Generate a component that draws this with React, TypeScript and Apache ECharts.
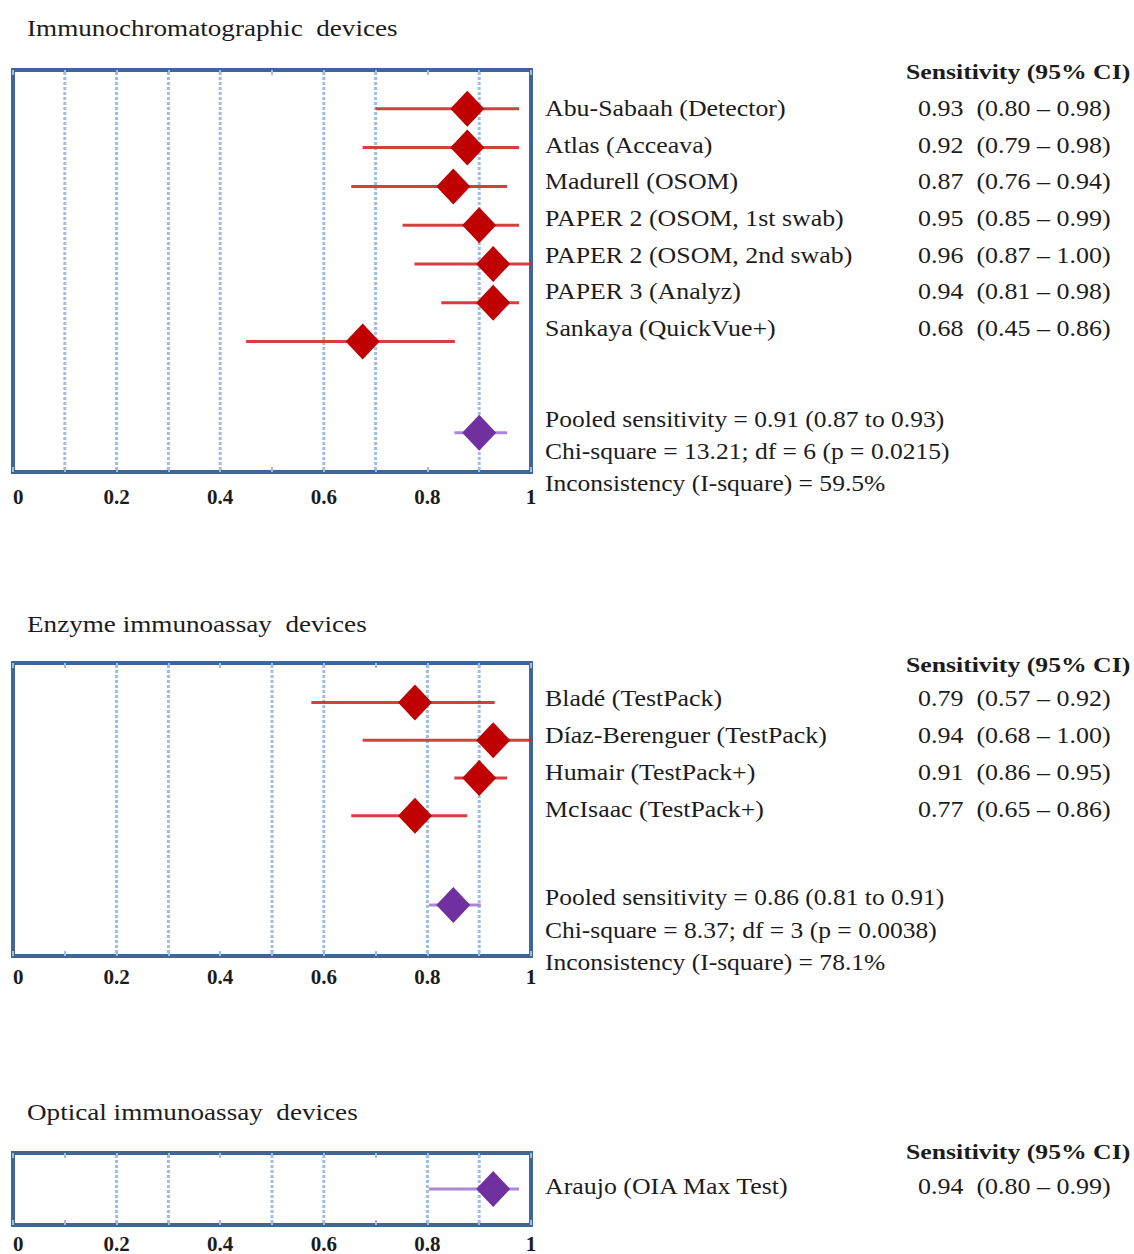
import React, { useEffect, useRef } from "react";
import * as echarts from "echarts";

const W = 1134;
const H = 1254;

// ---------- Data ----------
const tickLabels = ["0", "0.2", "0.4", "0.6", "0.8", "1"];

// Panel 1: Immunochromatographic devices
const icTitle = "Immunochromatographic  devices";
const icStudies = [
  "Abu-Sabaah (Detector)",
  "Atlas (Acceava)",
  "Madurell (OSOM)",
  "PAPER 2 (OSOM, 1st swab)",
  "PAPER 2 (OSOM, 2nd swab)",
  "PAPER 3 (Analyz)",
  "Sankaya (QuickVue+)",
];
const icSens = [0.93, 0.92, 0.87, 0.95, 0.96, 0.94, 0.68];
const icLow = [0.8, 0.79, 0.76, 0.85, 0.87, 0.81, 0.45];
const icHigh = [0.98, 0.98, 0.94, 0.99, 1.0, 0.98, 0.86];
// positions of the marks as drawn in the figure
const icPlotEst = [0.877, 0.877, 0.85, 0.9, 0.927, 0.927, 0.675];
const icPlotLow = [0.7, 0.675, 0.653, 0.752, 0.775, 0.827, 0.45];
const icPlotHigh = [0.977, 0.977, 0.954, 0.977, 1.0, 0.977, 0.853];
const icPooledPlot = [0.9, 0.852, 0.954]; // est, low, high
const icPooled = [0.91, 0.87, 0.93];
const icChi = [13.21, 6, 0.0215]; // chi-square, df, p
const icI2 = 59.5;
const icGridLines = [0.1, 0.2, 0.3, 0.4, 0.6, 0.7, 0.9];

// Panel 2: Enzyme immunoassay devices
const eiaTitle = "Enzyme immunoassay  devices";
const eiaStudies = [
  "Bladé (TestPack)",
  "Díaz-Berenguer (TestPack)",
  "Humair (TestPack+)",
  "McIsaac (TestPack+)",
];
const eiaSens = [0.79, 0.94, 0.91, 0.77];
const eiaLow = [0.57, 0.68, 0.86, 0.65];
const eiaHigh = [0.92, 1.0, 0.95, 0.86];
const eiaPlotEst = [0.776, 0.927, 0.9, 0.776];
const eiaPlotLow = [0.576, 0.675, 0.852, 0.653];
const eiaPlotHigh = [0.93, 1.0, 0.954, 0.877];
const eiaPooledPlot = [0.85, 0.803, 0.903];
const eiaPooled = [0.86, 0.81, 0.91];
const eiaChi = [8.37, 3, 0.0038];
const eiaI2 = 78.1;
const eiaGridLines = [0.2, 0.3, 0.5, 0.6, 0.8, 0.9];

// Panel 3: Optical immunoassay devices
const oiaTitle = "Optical immunoassay  devices";
const oiaStudies = ["Araujo (OIA Max Test)"];
const oiaSens = [0.94];
const oiaLow = [0.8];
const oiaHigh = [0.99];
const oiaPlotEst = [0.927];
const oiaPlotLow = [0.803];
const oiaPlotHigh = [0.977];
const oiaGridLines = [0.2, 0.3, 0.5, 0.6, 0.8, 0.9];

// ---------- Styles ----------
const FONT = '"Liberation Serif", "Times New Roman", serif';
const TEXT_COLOR = "#1c1c1c";
const FRAME = "#3f6696";
const GRIDC = "#9fbde3";
const RED = "#c00000";
const RED_LINE = "#d12a2a";
const PURPLE = "#7030a0";
const PURPLE_LINE = "#a27ad0";

type Panel = {
  title: string;
  titleY: number;
  top: number;
  height: number;
  yMin: number;
  yMax: number;
  labelMargin: number;
  studies: string[];
  sens: number[];
  low: number[];
  high: number[];
  est: number[];
  pLow: number[];
  pHigh: number[];
  studyPurple: boolean;
  pooledPlot: number[] | null;
  pooledRow: number;
  stats: string[];
  gridLines: number[];
  headerY: number;
  rowY0: number;
  rowStep: number;
  statY0: number;
  statStep: number;
};

const f2 = (v: number) => v.toFixed(2);

const panels: Panel[] = [
  {
    title: icTitle,
    titleY: 28,
    top: 70,
    height: 402,
    yMin: -1,
    yMax: 9.36,
    labelMargin: 14,
    studies: icStudies,
    sens: icSens,
    low: icLow,
    high: icHigh,
    est: icPlotEst,
    pLow: icPlotLow,
    pHigh: icPlotHigh,
    studyPurple: false,
    pooledPlot: icPooledPlot,
    pooledRow: 8.35,
    stats: [
      `Pooled sensitivity = ${f2(icPooled[0])} (${f2(icPooled[1])} to ${f2(icPooled[2])})`,
      `Chi-square = ${icChi[0].toFixed(2)}; df = ${icChi[1]} (p = ${icChi[2].toFixed(4)})`,
      `Inconsistency (I-square) = ${icI2.toFixed(1)}%`,
    ],
    gridLines: icGridLines,
    headerY: 72,
    rowY0: 108,
    rowStep: 36.67,
    statY0: 419,
    statStep: 32,
  },
  {
    title: eiaTitle,
    titleY: 624,
    top: 663,
    height: 293,
    yMin: -1.05,
    yMax: 6.72,
    labelMargin: 10,
    studies: eiaStudies,
    sens: eiaSens,
    low: eiaLow,
    high: eiaHigh,
    est: eiaPlotEst,
    pLow: eiaPlotLow,
    pHigh: eiaPlotHigh,
    studyPurple: false,
    pooledPlot: eiaPooledPlot,
    pooledRow: 5.37,
    stats: [
      `Pooled sensitivity = ${f2(eiaPooled[0])} (${f2(eiaPooled[1])} to ${f2(eiaPooled[2])})`,
      `Chi-square = ${eiaChi[0].toFixed(2)}; df = ${eiaChi[1]} (p = ${eiaChi[2].toFixed(4)})`,
      `Inconsistency (I-square) = ${eiaI2.toFixed(1)}%`,
    ],
    gridLines: eiaGridLines,
    headerY: 665,
    rowY0: 698,
    rowStep: 37,
    statY0: 897,
    statStep: 32.5,
  },
  {
    title: oiaTitle,
    titleY: 1112,
    top: 1153,
    height: 75,
    yMin: -1,
    yMax: 1,
    labelMargin: 8,
    studies: oiaStudies,
    sens: oiaSens,
    low: oiaLow,
    high: oiaHigh,
    est: oiaPlotEst,
    pLow: oiaPlotLow,
    pHigh: oiaPlotHigh,
    studyPurple: true,
    pooledPlot: null,
    pooledRow: 0,
    stats: [],
    gridLines: oiaGridLines,
    headerY: 1152,
    rowY0: 1186,
    rowStep: 37,
    statY0: 0,
    statStep: 0,
  },
];

const GRID_LEFT = 13;
const GRID_WIDTH = 518;

function txt(text: string, x: number, y: number, size: number, weight: string, sx: number) {
  return {
    type: "text",
    x,
    y,
    scaleX: sx,
    silent: true,
    style: {
      text,
      fill: TEXT_COLOR,
      font: `${weight} ${size}px ${FONT}`,
      textAlign: "left",
      textVerticalAlign: "middle",
      verticalAlign: "middle",
    },
  };
}

function buildOption() {
  const grid: any[] = [];
  const xAxis: any[] = [];
  const yAxis: any[] = [];
  const series: any[] = [];
  const graphic: any[] = [];

  panels.forEach((p, i) => {
    grid.push({
      left: GRID_LEFT,
      top: p.top,
      width: GRID_WIDTH,
      height: p.height,
      show: true,
      borderColor: FRAME,
      borderWidth: 4,
      backgroundColor: "#fff",
      containLabel: false,
    });
    const tickStyle = { show: true, inside: true, length: 5, lineStyle: { color: GRIDC, width: 2 } };
    xAxis.push({
      gridIndex: i,
      type: "value",
      min: 0,
      max: 1,
      interval: 0.1,
      position: "bottom",
      axisLine: { show: false, onZero: false },
      axisTick: tickStyle,
      splitLine: { show: false },
      axisLabel: {
        margin: p.labelMargin,
        color: TEXT_COLOR,
        fontFamily: FONT,
        fontWeight: "bold",
        fontSize: 21,
        alignMinLabel: "left",
        alignMaxLabel: "center",
        formatter: (v: number) => {
          const k = Math.round(v * 10);
          return k % 2 === 0 ? tickLabels[k / 2] : "";
        },
      },
    });
    xAxis.push({
      gridIndex: i,
      type: "value",
      min: 0,
      max: 1,
      interval: 0.1,
      position: "top",
      axisLine: { show: false, onZero: false },
      axisTick: tickStyle,
      splitLine: { show: false },
      axisLabel: { show: false },
    });
    yAxis.push({
      gridIndex: i,
      type: "value",
      inverse: true,
      min: p.yMin,
      max: p.yMax,
      show: false,
      axisLine: { onZero: false },
      splitLine: { show: false },
    });
    const xi = i * 2;

    // dotted gridlines
    series.push({
      type: "custom",
      xAxisIndex: xi,
      yAxisIndex: i,
      z: 1,
      silent: true,
      encode: { x: 0 },
      data: p.gridLines.map((v) => [v]),
      renderItem: (params: any, api: any) => {
        const cs = params.coordSys;
        const x = api.coord([api.value(0), 0])[0];
        return {
          type: "line",
          shape: { x1: x, y1: cs.y + 2, x2: x, y2: cs.y + cs.height - 2 },
          style: { stroke: GRIDC, lineWidth: 3, lineDash: [3, 2] },
        };
      },
    });

    // CI lines
    const ciData: any[] = p.est.map((_, r) => [p.pLow[r], p.pHigh[r], r, p.studyPurple ? 1 : 0]);
    if (p.pooledPlot) ciData.push([p.pooledPlot[1], p.pooledPlot[2], p.pooledRow, 1]);
    series.push({
      type: "custom",
      xAxisIndex: xi,
      yAxisIndex: i,
      z: 3,
      silent: true,
      encode: { x: [0, 1], y: 2 },
      data: ciData,
      renderItem: (_params: any, api: any) => {
        const a = api.coord([api.value(0), api.value(2)]);
        const b = api.coord([api.value(1), api.value(2)]);
        const purple = api.value(3) === 1;
        return {
          type: "line",
          shape: { x1: a[0], y1: a[1], x2: b[0], y2: b[1] },
          style: { stroke: purple ? PURPLE_LINE : RED_LINE, lineWidth: 3, opacity: 0.9 },
        };
      },
    });

    // study diamonds
    series.push({
      type: "scatter",
      xAxisIndex: xi,
      yAxisIndex: i,
      z: 4,
      silent: true,
      symbol: "diamond",
      symbolSize: [34, 36],
      itemStyle: { color: p.studyPurple ? PURPLE : RED, opacity: 1 },
      data: p.est.map((v, r) => [v, r]),
    });

    // pooled diamond
    if (p.pooledPlot) {
      series.push({
        type: "scatter",
        xAxisIndex: xi,
        yAxisIndex: i,
        z: 4,
        silent: true,
        symbol: "diamond",
        symbolSize: [34, 36],
        itemStyle: { color: PURPLE, opacity: 1 },
        data: [[p.pooledPlot[0], p.pooledRow]],
      });
    }

    // texts
    graphic.push(txt(p.title, 27, p.titleY, 23, "normal", 1.18));
    graphic.push(txt("Sensitivity (95% CI)", 906, p.headerY, 21, "bold", 1.225));
    p.studies.forEach((s, r) => {
      const y = p.rowY0 + r * p.rowStep;
      graphic.push(txt(s, 545, y, 23, "normal", 1.125));
      graphic.push(
        txt(`${f2(p.sens[r])}  (${f2(p.low[r])} – ${f2(p.high[r])})`, 918, y, 23, "normal", 1.13)
      );
    });
    p.stats.forEach((s, k) => {
      graphic.push(txt(s, 545, p.statY0 + k * p.statStep, 23, "normal", 1.11));
    });
  });

  return {
    animation: false,
    backgroundColor: "#ffffff",
    grid,
    xAxis,
    yAxis,
    series,
    graphic: { elements: graphic },
  };
}

export default function App() {
  const ref = useRef<HTMLDivElement>(null);
  useEffect(() => {
    if (!ref.current) return;
    const chart = echarts.init(ref.current, undefined, { renderer: "svg" });
    chart.setOption(buildOption() as any);
    return () => chart.dispose();
  }, []);
  return (
    <div
      ref={ref}
      style={{ position: "absolute", left: 0, top: 0, width: W, height: H, background: "#fff" }}
    />
  );
}
